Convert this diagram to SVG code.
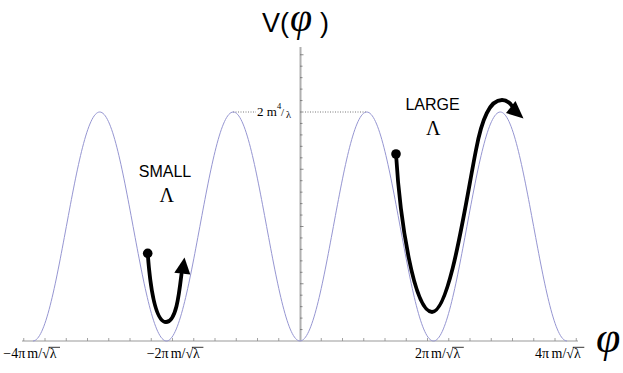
<svg xmlns="http://www.w3.org/2000/svg" width="623" height="373" viewBox="0 0 623 373">
<style>
.serif{font-family:"Liberation Serif","Times New Roman",serif;fill:#000}
.sans{font-family:"Liberation Sans",Arial,sans-serif;fill:#000}
.tick{font-size:14px}
.ol{stroke:#000;stroke-width:0.8}
.traj{fill:none;stroke:#000;stroke-width:3.8;stroke-linecap:round}
</style>
<rect width="623" height="373" fill="#fff"/>
<g id="axes">
<line x1="22" y1="341" x2="578" y2="341" stroke="#9a9a9a" stroke-width="1.2"/>
<line x1="300.5" y1="47" x2="300.5" y2="341" stroke="#b0b0b0" stroke-width="2"/>
<path stroke="#8a8a8a" stroke-width="0.8" fill="none" d="M23.75,341v-3M45,341v-3M66.25,341v-3M87.5,341v-3M108.75,341v-3M130,341v-3M151.25,341v-3M172.5,341v-3M193.75,341v-3M215,341v-3M236.25,341v-3M257.5,341v-3M278.75,341v-3M321.25,341v-3M342.5,341v-3M363.75,341v-3M385,341v-3M406.25,341v-3M427.5,341v-3M448.75,341v-3M470,341v-3M491.25,341v-3M512.5,341v-3M533.75,341v-3M555,341v-3M576.25,341v-3"/>
<path stroke="#707070" stroke-width="0.8" fill="none" d="M300,329.55h2.5M300,318.1h2.5M300,306.65h2.5M300,295.2h2.5M300,283.75h3.5M300,272.3h2.5M300,260.85h2.5M300,249.4h2.5M300,237.95h2.5M300,226.5h3.5M300,215.05h2.5M300,203.6h2.5M300,192.15h2.5M300,180.7h2.5M300,169.25h3.5M300,157.8h2.5M300,146.35h2.5M300,134.9h2.5M300,123.45h2.5M300,112h3.5M300,100.55h2.5M300,89.1h2.5M300,77.65h2.5M300,66.2h2.5M300,54.75h3.5"/>
<path stroke="#555" stroke-width="0.8" stroke-dasharray="1 1.5" fill="none" d="M233,112H256M305,112H367"/>
</g>
<g id="potential">
<path fill="none" stroke="#9696d2" stroke-width="1" d="M32.96,341
c12.08,0 22.49,-55.84 33.38,-114.5 c10.89,-58.66 21.3,-114.5 33.38,-114.5
c12.08,0 22.49,55.84 33.38,114.5 c10.89,58.66 21.3,114.5 33.38,114.5
c12.08,0 22.49,-55.84 33.38,-114.5 c10.89,-58.66 21.3,-114.5 33.38,-114.5
c12.08,0 22.49,55.84 33.38,114.5 c10.89,58.66 21.3,114.5 33.38,114.5
c12.08,0 22.49,-55.84 33.38,-114.5 c10.89,-58.66 21.3,-114.5 33.38,-114.5
c12.08,0 22.49,55.84 33.38,114.5 c10.89,58.66 21.3,114.5 33.38,114.5
c12.08,0 22.49,-55.84 33.38,-114.5 c10.89,-58.66 21.3,-114.5 33.38,-114.5
c12.08,0 22.49,55.84 33.38,114.5 c10.89,58.66 21.3,114.5 33.38,114.5"/>
</g>
<g id="labels">
<text class="sans" x="262" y="32" font-size="27">V(</text>
<text class="serif" x="290" y="31" font-size="40" font-style="italic">φ</text>
<text class="sans" x="320" y="32" font-size="27">)</text>
<text class="serif" x="596" y="352" font-size="44" font-style="italic">φ</text>
<text class="serif" x="257" y="116" font-size="13">2 m</text>
<text class="serif" x="277" y="109" font-size="8.5">4</text>
<text class="serif" x="281" y="116" font-size="11">/</text>
<text class="serif" x="286" y="118" font-size="10.5">λ</text>
<text class="serif tick" x="3.3" y="357.5">−4π<tspan dx="2">m/√λ</tspan></text>
<line class="ol" x1="48.5" y1="347.3" x2="60" y2="347.3"/>
<text class="serif tick" x="146.7" y="357.5">−2π<tspan dx="2">m/√λ</tspan></text>
<line class="ol" x1="191.9" y1="347.3" x2="203.4" y2="347.3"/>
<text class="serif tick" x="415" y="357.5">2π<tspan dx="2">m/√λ</tspan></text>
<line class="ol" x1="452.3" y1="347.3" x2="463.8" y2="347.3"/>
<text class="serif tick" x="535" y="357.5">4π<tspan dx="2.5">m/√λ</tspan></text>
<line class="ol" x1="572.8" y1="347.3" x2="584.3" y2="347.3"/>
<text class="sans" x="165" y="176.5" font-size="16" text-anchor="middle">SMALL</text>
<text class="serif" x="166.7" y="201.7" font-size="20" text-anchor="middle">Λ</text>
<text class="sans" x="432.5" y="110" font-size="16" text-anchor="middle">LARGE</text>
<text class="serif" x="433.3" y="135" font-size="20" text-anchor="middle">Λ</text>
</g>
<g id="trajectories">
<g id="small-lambda">
<circle cx="147.7" cy="253.3" r="4.8"/>
<path class="traj" d="M147.7,253.3 C150,285 155,322 166,322 C176,322 179,295 181.5,274"/>
<polygon points="184.5,257.5 174.3,272.8 190.3,274.6"/>
</g>
<g id="large-lambda">
<circle cx="396" cy="154" r="4.8"/>
<path class="traj" d="M396,154 C400,220 414,312 432,312 C450,312 466,200 476,150 C482,118 490,100 502,100 C507,100 510,103 512,106"/>
<polygon points="523.5,118.5 515.5,101 506,113"/>
</g>
</g>
</svg>
